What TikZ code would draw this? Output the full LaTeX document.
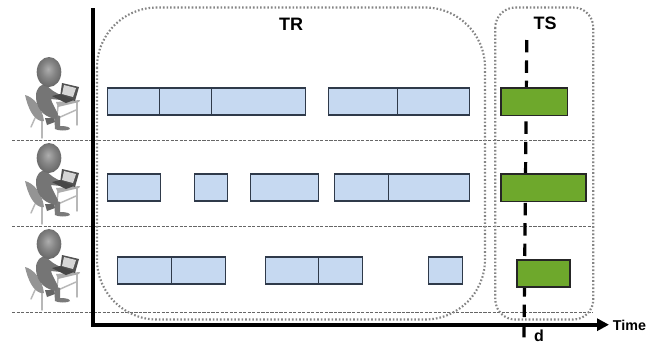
\documentclass[tikz,border=0pt]{standalone}
\usepackage{fontspec}
\setmainfont{Liberation Sans}
\usetikzlibrary{arrows.meta,shadings}
\definecolor{segblue}{HTML}{C6D9F1}
\definecolor{segedge}{HTML}{2F3A4A}
\definecolor{greenbar}{HTML}{6EA82C}
\definecolor{dotgray}{HTML}{858585}
\pgfdeclareradialshading{headshade}{\pgfpoint{-2bp}{5bp}}{color(0bp)=(black!32); color(14bp)=(black!48); color(30bp)=(black!62); color(50bp)=(black!62)}
\tikzset{
  seg/.style={draw=segedge,fill=segblue,line width=0.8pt},
  testbar/.style={draw=black!85,fill=greenbar,line width=1pt},
  group/.style={draw=dotgray,line width=1.6pt,dash pattern=on 1.2pt off 1.5pt},
  lane/.style={draw=black!60,line width=0.5pt,dash pattern=on 2.4pt off 1pt},
  axisline/.style={draw=black,line width=3.2pt},
  cutline/.style={draw=black,line width=2.4pt,dash pattern=on 9.3pt off 5.97pt},
  lbl/.style={inner sep=0pt,text=black},
  biglbl/.style={lbl,font=\bfseries\fontsize{13.5pt}{15pt}\selectfont},
  chairc/.style={fill=black!42},
  legc/.style={draw=black!28,line width=1.1pt,line cap=round}
}
\newcommand{\person}[2]{%
\begin{scope}[shift={(#1,#2)}]
  % chair
  \draw[legc] (35,118) -- (31,127);
  \draw[legc] (42,120) -- (42,138);
  \fill[chairc] (25,95) .. controls (33,97) and (42,106) .. (44,121) -- (41,121) .. controls (33,119) and (28,108) .. (25,95) -- cycle;
  % table
  \draw[legc] (77,102) -- (77,125);
  \draw[legc] (58,118) -- (76,110);
  \draw[legc] (58,106) -- (56,126);
  \fill[black!32] (56,102) -- (80,100) -- (79,102) -- (58,107) -- cycle;
  % far leg and foot
  \fill[black!60] (45,118) -- (54,118) -- (55,122) -- (47,125) -- cycle;
  \fill[black!52] (54,114) -- (60,116) -- (60,126) .. controls (66,126) and (70,127) .. (70,129) .. controls (68,131) and (58,131) .. (55,129) -- cycle;
  % body
  \fill[black!54] (36,96) .. controls (36,88) and (41,84) .. (46,84) .. controls (50,90) and (56,93) .. (63,96) -- (61,100) -- (51,99) -- (52,102) -- (58,114) -- (56,119) .. controls (48,118) and (36,112) .. (36,96) -- cycle;
  % laptop
  \fill[black!68] (62,83) -- (79,87) -- (75,101) -- (60,97) -- cycle;
  \fill[black!16] (64,85) -- (76,88) -- (73,97) -- (62,94) -- cycle;
  \fill[black!72] (52,96) -- (60,94) -- (74,100) -- (66,103) -- cycle;
  % head
  \shade[shading=headshade] (49,72) ellipse[x radius=12.3,y radius=15];
\end{scope}}
\begin{document}
\begin{tikzpicture}[x=0.75pt,y=-0.75pt]
\useasboundingbox (0,0) rectangle (654,344);
\fill[white] (0,0) rectangle (654,344);
% people
\person{0}{0}
\person{0}{86}
\person{0}{172}
% lanes
\draw[lane] (12,140.5) -- (593,140.5);
\draw[lane] (12,226.5) -- (593,226.5);
\draw[lane] (12,312.5) -- (593,312.5);
% groups
\draw[group,rounded corners=45pt] (97,7.5) rectangle (485,319.5);
\draw[group,rounded corners=15pt] (495.3,7.5) rectangle (593.3,319.5);
% cut line
\coordinate (cuttop) at (526.8,40);
\coordinate (cutbot) at (524,337.5);
\draw[cutline] (cuttop) -- (cutbot);
% axes
\coordinate (origin) at (92.7,324.7);
\coordinate (ytop) at (92.7,8);
\coordinate (xend) at (609,324.7);
\draw[axisline] (ytop) -- (origin);
\draw[axisline,-{Triangle[length=9pt,width=9pt]},line cap=rect] (origin) -- (xend);
% training segments
\draw[seg] (107.5,88) rectangle (159.5,115);
\draw[seg] (159.5,88) rectangle (211.5,115);
\draw[seg] (211.5,88) rectangle (305.5,115);
\draw[seg] (328.5,88) rectangle (397.5,115);
\draw[seg] (397.5,88) rectangle (469.5,115);
\draw[seg] (107.5,174) rectangle (160.5,201);
\draw[seg] (194.5,174) rectangle (227.5,201);
\draw[seg] (250.5,174) rectangle (318.5,201);
\draw[seg] (334.5,174) rectangle (388.5,201);
\draw[seg] (388.5,174) rectangle (469.5,201);
\draw[seg] (117.5,257) rectangle (171.5,284);
\draw[seg] (171.5,257) rectangle (225.5,284);
\draw[seg] (265.5,257) rectangle (318.5,284);
\draw[seg] (318.5,257) rectangle (362.5,284);
\draw[seg] (428.5,257) rectangle (462.5,284);
% test segments
\draw[testbar] (501,88) rectangle (567.7,115.5);
\draw[testbar] (501,174) rectangle (586,201.5);
\draw[testbar] (517,260) rectangle (570,287);
% labels
\node[biglbl] (tr) at (291,24) {TR};
\node[biglbl] (ts) at (545,23) {TS};
\node[lbl,font=\bfseries\fontsize{12pt}{14pt}\selectfont] (d) at (539,336) {d};
\node[lbl,font=\bfseries\fontsize{10.7pt}{12pt}\selectfont] (time) at (629.5,325) {Time};
\end{tikzpicture}
\end{document}
